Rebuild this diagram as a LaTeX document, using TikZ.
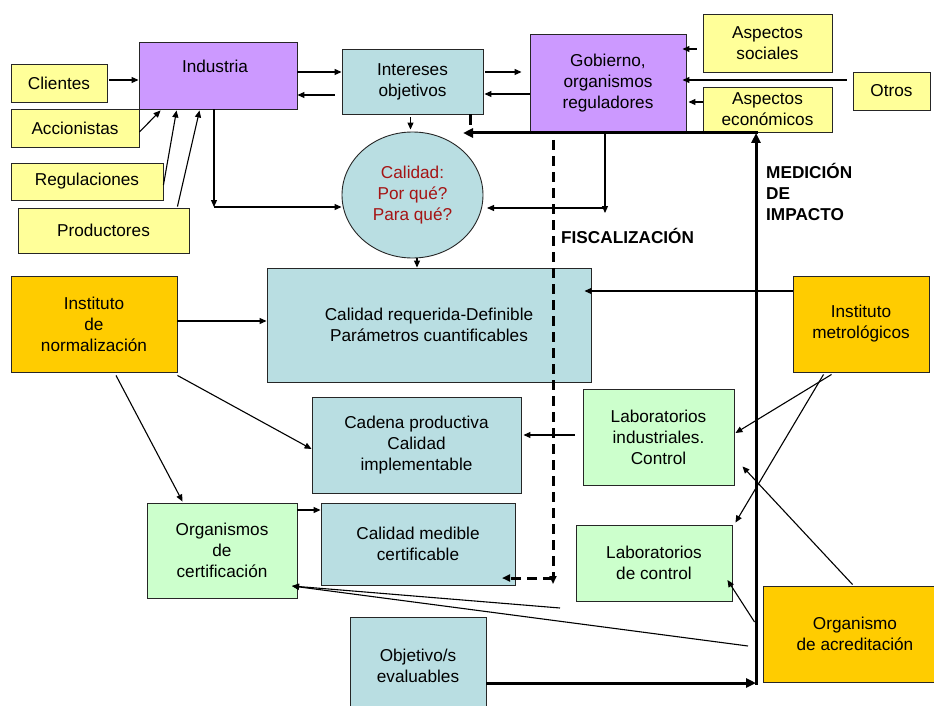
\documentclass[tikz,border=0pt]{standalone}
\usepackage{fontspec}
\setmainfont{Liberation Sans}
\usetikzlibrary{arrows.meta,calc,shapes.geometric}
\definecolor{yel}{RGB}{255,255,153}
\definecolor{pur}{RGB}{204,153,255}
\definecolor{tea}{RGB}{185,222,226}
\definecolor{grn}{RGB}{204,255,204}
\definecolor{gold}{RGB}{255,204,0}
\definecolor{dred}{RGB}{165,20,20}
\begin{document}
\begin{tikzpicture}[x=1pt,y=-1pt,
  txt/.style={font=\fontsize{17.2}{21}\selectfont, align=center, inner sep=0pt},
  box/.style={txt, draw=black!85, line width=0.9pt},
  lbl/.style={font=\fontsize{17.2}{21}\selectfont\bfseries, inner sep=0pt},
  thin/.style={line width=1.1pt, draw=black},
  arr/.style={thin, -{Triangle[length=7pt,width=6pt]}},
  thk/.style={line width=3pt, draw=black},
  tarr/.style={thk, -{Triangle[length=10pt,width=9pt]}},
  dsh/.style={line width=3pt, dash pattern=on 10pt off 6pt, -{Triangle[length=8pt,width=7pt]}}
]
\useasboundingbox (0,0) rectangle (934,706);
\fill[white] (0,0) rectangle (934,706);

% boxes
\node[box, fill=yel, minimum width=96pt, minimum height=38pt] (cli) at (59,83) {Clientes};
\node[box, fill=yel, minimum width=128pt, minimum height=38pt] (acc) at (75,128) {Accionistas};
\node[box, fill=yel, minimum width=152pt, minimum height=37pt] (reg) at (87,181.5) {Regulaciones};
\node[box, fill=yel, minimum width=171pt, minimum height=45pt] (pro) at (103.5,230.5) {Productores};
\node[box, fill=pur, minimum width=158pt, minimum height=67pt] (ind) at (218,75.5) {};
\node[txt] (indt) at (215,66) {Industria};
\node[box, fill=tea, minimum width=141pt, minimum height=65pt] (int) at (412.5,81.5) {Intereses\\objetivos};
\node[box, fill=pur, minimum width=156pt, minimum height=98pt] (gob) at (608,83) {Gobierno,\\organismos\\reguladores};
\node[box, fill=yel, minimum width=129pt, minimum height=58pt] (asoc) at (767.5,43) {Aspectos\\sociales};
\node[box, fill=yel, minimum width=77pt, minimum height=38pt] (otr) at (891.5,91) {Otros};
\node[box, fill=yel, minimum width=129pt, minimum height=45pt] (aeco) at (767.5,109.5) {Aspectos\\económicos};
\node[box, ellipse, fill=tea, text=dred, minimum width=141pt, minimum height=126pt] (cal) at (412.5,195) {Calidad:\\Por qué?\\Para qué?};
\node[box, fill=tea, minimum width=324pt, minimum height=114pt] (creq) at (429,325) {Calidad requerida-Definible\\Parámetros cuantificables};
\node[box, fill=gold, minimum width=166pt, minimum height=96pt] (inorm) at (94,324) {Instituto\\de\\normalización};
\node[box, fill=gold, minimum width=136pt, minimum height=96pt] (imet) at (861,324) {Instituto\\metrológicos};
\node[box, fill=tea, minimum width=209pt, minimum height=96pt] (cad) at (416.5,445) {Cadena productiva\\Calidad\\implementable};
\node[box, fill=grn, minimum width=151pt, minimum height=96pt] (labi) at (658.5,437) {Laboratorios\\industriales.\\Control};
\node[box, fill=grn, minimum width=150pt, minimum height=95pt] (ocert) at (222,550.5) {Organismos\\de\\certificación};
\node[box, fill=tea, minimum width=194pt, minimum height=82pt] (cmed) at (418,544) {Calidad medible\\certificable};
\node[box, fill=grn, minimum width=156pt, minimum height=76pt] (labc) at (654,563) {Laboratorios\\de control};
\node[box, fill=tea, minimum width=136pt, minimum height=110pt] (obj) at (418,672) {};
\node[txt] (objt) at (418,665.5) {Objetivo/s\\evaluables};
\node[box, fill=gold, minimum width=184pt, minimum height=96pt] (oacr) at (855,634) {Organismo\\de acreditación};

% labels
\node[lbl, anchor=base west] (fis) at (561,243) {FISCALIZACIÓN};
\node[lbl, anchor=north west, align=left] (med) at (766,163) {MEDICIÓN\\DE\\IMPACTO};

% left inputs to Industria
\draw[arr] ($(cli.east|-0,80)+(2,0)$) -- (ind.west |- 0,80);
\draw[arr] (acc.east |- 0,132) -- ($(ind.south west)+(22,1)$);
\draw[arr] (reg.east |- 0,185) -- ($(ind.south west)+(38,1)$);
\draw[arr] ($(pro.north east)+(-12,-1)$) -- ($(ind.south west)+(61,1)$);
\coordinate (c1) at (214,207);
\draw[arr] (c1 |- ind.south) -- (c1);
\draw[arr] (c1) -- (cal.west |- c1);

% Industria <-> Intereses <-> Gobierno
\draw[arr] (ind.east |- 0,72) -- (int.west |- 0,72);
\draw[arr] ($(int.west|-0,95)+(-7,0)$) -- (ind.east |- 0,95);
\draw[arr] ($(int.east|-0,72)+(2,0)$) -- ($(gob.west|-0,72)+(-8,0)$);
\draw[arr] (gob.west |- 0,94) -- ($(int.east|-0,94)+(1,0)$);
\draw[arr] ($(int.south)+(-2,3)$) -- ($(int.south|-cal.north)+(-2,-2)$);
\draw[arr] ($(cal.south)+(4.5,0)$) -- ($(cal.south|-creq.north)+(4.5,0)$);

% aspects -> Gobierno
\draw[arr] ($(asoc.west|-0,49)+(-6,0)$) -- ($(gob.east|-0,49)+(-4,0)$);
\draw[arr] ($(otr.west|-0,80)+(-6,0)$) -- ($(gob.east|-0,80)+(-4,0)$);
\draw[arr] (aeco.west |- 0,102) -- ($(gob.east|-0,102)+(2,0)$);

% Gobierno down to Calidad
\coordinate (g1) at (605,213);
\coordinate (g2) at (605,208);
\coordinate (g3) at (487,208);
\draw[arr] (g1 |- gob.south) -- (g1);
\draw[arr] (g2) -- (g3);

% thick measurement loop
\draw[thk] (470,0 |- int.south) -- (470,125);
\coordinate (m1) at (756,683);
\coordinate (m2) at (756,133);
\coordinate (m3) at (463,133);
\draw[tarr] (obj.east |- m1) -- (m1);
\draw[tarr] ($(m1)+(0,1.5)$) -- (m2);
\draw[tarr] ($(m2)+(1.5,0)$) -- (m3);

% fiscalizacion dashed
\coordinate (d1) at (553,140);
\coordinate (d2) at (553,584);
\coordinate (d3) at (553,578);
\coordinate (d4) at (502,578);
\draw[dsh] (d1) -- (d2);
\draw[dsh] (d3) -- (d4);

% Instituto de normalizacion
\draw[arr] (inorm.east |- 0,321) -- (creq.west |- 0,321);
\draw[arr] ($(inorm.south east)+(0,3)$) -- (cad.west |- 0,449);
\draw[arr] ($(inorm.south)+(22,3)$) -- ($(ocert.north west)+(36,-1)$);
\draw[arr] (ocert.east |- 0,510) -- (cmed.west |- 0,510);

% lines into Organismos de certificacion
\coordinate (o1) at (292,586);
\coordinate (e1) at (560,608);
\coordinate (e2) at (748,646);
\draw[arr] (e1) -- (o1);
\draw[arr] (e2) -- (o1);

% labs and metrology
\draw[arr] ($(labi.west|-0,435)+(-8,0)$) -- ($(cad.east|-0,435)+(2,0)$);
\draw[arr] (imet.west |- 0,291) -- ($(creq.east|-0,291)+(-7,0)$);
\draw[arr] ($(imet.south west)+(39,2)$) -- ($(labi.east|-0,433)+(1,0)$);
\draw[arr] ($(imet.south west)+(31,2)$) -- ($(labc.north east)+(3,-2)$);
\draw[arr] ($(oacr.north west)+(90,-1)$) -- ($(labi.south east)+(8,-19)$);
\draw[arr] ($(oacr.west|-0,622)+(-8,0)$) -- ($(labc.east|-0,580)+(-5,0)$);
\end{tikzpicture}
\end{document}
